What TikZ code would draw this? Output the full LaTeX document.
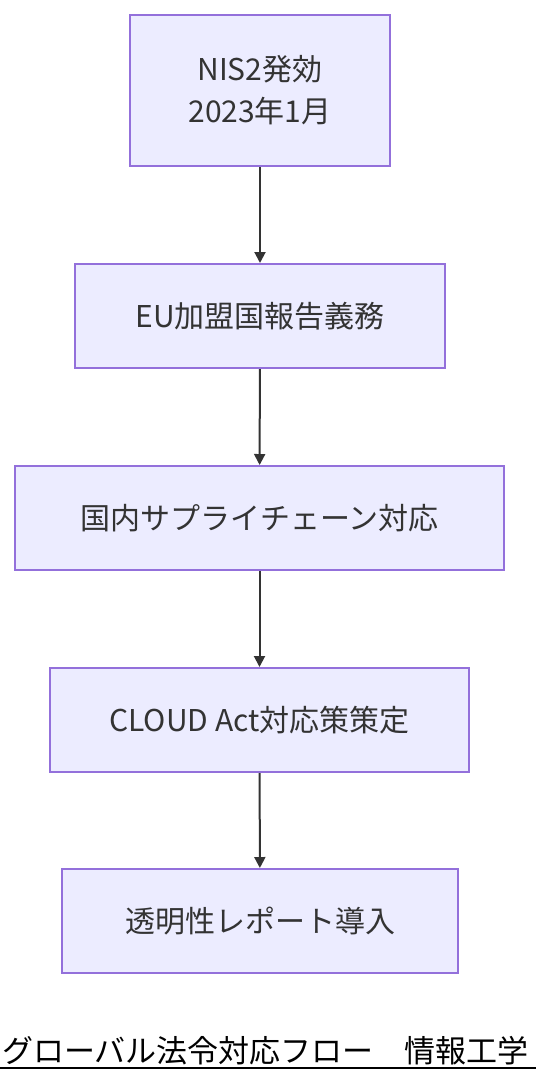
\documentclass[tikz,border=0pt]{standalone}
\usepackage{fontspec}
\setmainfont{Noto Sans CJK JP}
\usetikzlibrary{arrows.meta}

\definecolor{boxfill}{HTML}{ECECFF}
\definecolor{boxline}{HTML}{9370DB}
\definecolor{textgray}{HTML}{333333}

\tikzset{
  flowbox/.style = {draw = boxline, fill = boxfill, line width = 2pt,
    text = textgray, align = center, inner sep = 0pt, minimum height = 104pt,
    font = \fontsize{30}{42}\selectfont},
  flowarrow/.style = {draw = textgray, line width = 2pt,
    -{Triangle[length = 11pt, width = 11pt]}}
}

\begin{document}
\begin{tikzpicture}[x = 1pt, y = -1pt]
			\useasboundingbox (0, 0) rectangle (536, 1084);

			\node[flowbox, minimum width = 260pt, minimum height = 151pt] (nis) at (260, 90.5) {NIS2発効\\2023年1月};
			\node[flowbox, minimum width = 370pt] (eu) at (260, 316) {EU加盟国報告義務};
			\node[flowbox, minimum width = 489pt] (supply) at (259.5, 518) {国内サプライチェーン対応};
			\node[flowbox, minimum width = 419pt] (cloud) at (259.5, 720) {CLOUD Act対応策策定};
			\node[flowbox, minimum width = 396pt] (report) at (260, 921) {透明性レポート導入};

			\draw[flowarrow] (nis) -- (eu);
			\draw[flowarrow] (eu) -- (supply);
			\draw[flowarrow] (supply) -- (cloud);
			\draw[flowarrow] (cloud) -- (report);

			% title with underline
			\node[anchor = west, inner sep = 0pt, font = \fontsize{31}{31}\selectfont] (title) at (2, 1051) {グローバル法令対応フロー　情報工学};
			\draw[line width = 2pt] (0, 1068) -- (536, 1068);
\end{tikzpicture}
\end{document}
